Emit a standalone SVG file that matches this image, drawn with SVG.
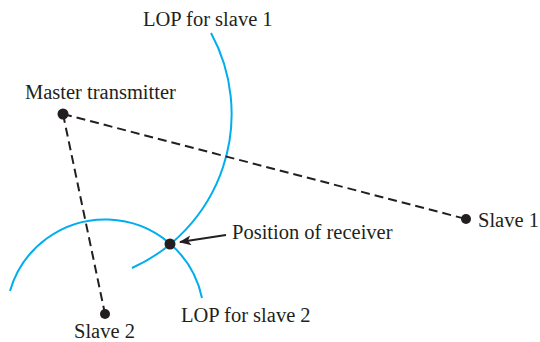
<svg xmlns="http://www.w3.org/2000/svg" width="540" height="342" viewBox="0 0 540 342">
<style>
text{font-family:"Liberation Serif","Times New Roman",serif;font-size:20.5px;fill:#231f20}
.lop{fill:none;stroke:#00aeef;stroke-width:2}
.dash{fill:none;stroke:#231f20;stroke-width:2;stroke-dasharray:9 5}
.dot{fill:#231f20}
</style>
<defs>
<marker id="ah" viewBox="0 0 12 10" refX="11" refY="5" markerWidth="12" markerHeight="10" markerUnits="userSpaceOnUse" orient="auto">
<path d="M0,0 L12,5 L0,10 L3,5 Z" fill="#231f20"/>
</marker>
</defs>
<g id="connectors">
<path class="lop" d="M 211 33 A 169 169 0 0 1 132 268"/>
<path class="lop" d="M 10 291 A 99 99 0 0 1 202 298"/>
<line class="dash" x1="63" y1="114" x2="466" y2="219"/>
<line class="dash" x1="63" y1="114" x2="105" y2="314"/>
<line x1="226" y1="235" x2="180" y2="242" stroke="#231f20" stroke-width="2" marker-end="url(#ah)"/>
</g>
<g id="master"><circle class="dot" cx="63" cy="114" r="5.5"/><text x="25" y="99">Master transmitter</text></g>
<g id="slave1"><circle class="dot" cx="466" cy="219" r="5"/><text x="478" y="227">Slave 1</text></g>
<g id="slave2"><circle class="dot" cx="105" cy="314" r="5"/><text x="74" y="338">Slave 2</text></g>
<g id="receiver"><circle class="dot" cx="170" cy="244" r="5.5"/><text x="232" y="239">Position of receiver</text></g>
<g id="lop1"><text x="143" y="26">LOP for slave 1</text></g>
<g id="lop2"><text x="181" y="322">LOP for slave 2</text></g>
</svg>
